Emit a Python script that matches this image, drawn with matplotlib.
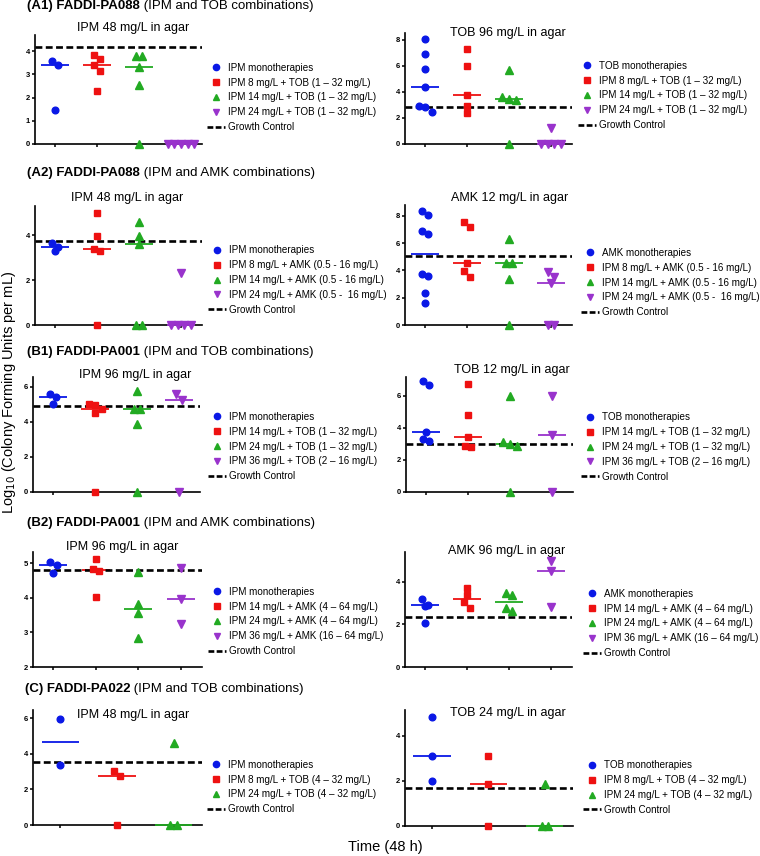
import numpy as np
import matplotlib
matplotlib.use('Agg')
import matplotlib.pyplot as plt
from matplotlib.lines import Line2D

plt.rcParams['font.family'] = ['Liberation Sans', 'DejaVu Sans']

W, H = 760, 856
fig = plt.figure(figsize=(W / 100, H / 100), dpi=100)

COLORS = ['#0a18e6', '#ee1111', '#22aa22', '#9933cc']
MARKERS = ['o', 's', '^', 'v']
MSIZE = [4.8, 4.4, 5.2, 5.2]

# ---------------- data ----------------
# (A1) FADDI-PA088, IPM and TOB
a1l_mono = [3.6, 3.4, 1.47]
a1l_ipm8 = [3.85, 3.65, 3.4, 3.15, 2.3]
a1l_ipm14 = [3.8, 3.78, 3.3, 2.55, 0]
a1l_ipm24 = [0, 0, 0, 0, 0]
a1l_gc = 4.2

a1r_mono = [8.07, 6.93, 5.78, 4.38, 2.9, 2.8, 2.45]
a1r_ipm8 = [7.24, 6.0, 3.75, 2.9, 2.35]
a1r_ipm14 = [5.65, 3.62, 3.44, 3.36, 0]
a1r_ipm24 = [1.25, 0, 0, 0, 0]
a1r_gc = 2.83

# (A2) FADDI-PA088, IPM and AMK
a2l_mono = [3.63, 3.49, 3.3]
a2l_ipm8 = [4.97, 3.97, 3.4, 3.3, 0]
a2l_ipm14 = [4.6, 3.97, 3.6, 0, 0]
a2l_ipm24 = [2.3, 0, 0, 0, 0]
a2l_gc = 3.73

a2r_mono = [8.38, 8.08, 6.9, 6.68, 3.77, 3.59, 2.37, 1.58]
a2r_ipm8 = [7.57, 7.2, 4.58, 3.96, 3.55]
a2r_ipm14 = [6.3, 4.58, 4.58, 3.35, 0]
a2r_ipm24 = [3.92, 3.55, 3.1, 0, 0]
a2r_gc = 5.04

# (B1) FADDI-PA001, IPM and TOB
b1l_mono = [5.62, 5.43, 5.01]
b1l_ipm14 = [5.05, 4.95, 4.76, 4.53, 0]
b1l_ipm24 = [5.75, 4.76, 4.76, 3.9, 0]
b1l_ipm36 = [5.58, 5.28, 0]
b1l_gc = 4.9

b1r_mono = [6.9, 6.69, 3.71, 3.31, 3.21]
b1r_ipm14 = [6.73, 4.83, 3.42, 2.88, 2.83]
b1r_ipm24 = [5.96, 3.1, 3.0, 2.88, 0]
b1r_ipm36 = [5.96, 3.56, 0]
b1r_gc = 3.0

# (B2) FADDI-PA001, IPM and AMK
b2l_mono = [5.05, 4.95, 4.71]
b2l_ipm14 = [5.12, 4.84, 4.78, 4.02]
b2l_ipm24 = [4.75, 3.83, 3.55, 2.85]
b2l_ipm36 = [4.88, 3.96, 3.24]
b2l_gc = 4.8

b2r_mono = [3.18, 2.93, 2.85, 2.06]
b2r_ipm14 = [3.69, 3.36, 3.05, 2.78]
b2r_ipm24 = [3.47, 3.36, 2.78, 2.63]
b2r_ipm36 = [4.96, 4.53, 2.8]
b2r_gc = 2.37

# (C) FADDI-PA022, IPM and TOB
cl_mono = [5.94, 3.36]
cl_ipm8 = [3.05, 2.74, 0]
cl_ipm24 = [4.62, 0, 0]
cl_gc = 3.55

cr_mono = [4.81, 3.1, 2.0]
cr_ipm8 = [3.11, 1.88, 0]
cr_ipm24 = [1.88, 0, 0]
cr_gc = 1.67

lab_tob_a = ["IPM 8 mg/L + TOB (1 \u2013 32 mg/L)", "IPM 14 mg/L + TOB (1 \u2013 32 mg/L)",
             "IPM 24 mg/L + TOB (1 \u2013 32 mg/L)"]
lab_amk_a = ["IPM 8 mg/L + AMK (0.5 - 16 mg/L)", "IPM 14 mg/L + AMK (0.5 - 16 mg/L)",
             "IPM 24 mg/L + AMK (0.5 -  16 mg/L)"]
lab_tob_b = ["IPM 14 mg/L + TOB (1 \u2013 32 mg/L)", "IPM 24 mg/L + TOB (1 \u2013 32 mg/L)",
             "IPM 36 mg/L + TOB (2 \u2013 16 mg/L)"]
lab_amk_b = ["IPM 14 mg/L + AMK (4 \u2013 64 mg/L)", "IPM 24 mg/L + AMK (4 \u2013 64 mg/L)",
             "IPM 36 mg/L + AMK (16 \u2013 64 mg/L)"]
lab_tob_c = ["IPM 8 mg/L + TOB (4 \u2013 32 mg/L)", "IPM 24 mg/L + TOB (4 \u2013 32 mg/L)"]


def swarm(vals, ppy, d):
    vals = np.asarray(vals, dtype=float)
    order = np.argsort(-vals, kind='stable')
    offs = np.zeros(len(vals))
    rows = []
    for idx in order:
        if rows and abs(vals[rows[-1][0]] - vals[idx]) * ppy < d * 0.9:
            rows[-1].append(idx)
        else:
            rows.append([idx])
    for row in rows:
        k = len(row)
        for j, idx in enumerate(row):
            offs[idx] = (j - (k - 1) / 2) * d
    return offs


def add_panel(box, ylim, yticks, groups, gc, title, title_xy, labels, legend_xy):
    x0, y0, x1, y1 = box
    ax = fig.add_axes([x0 / W, 1 - y1 / H, (x1 - x0) / W, (y1 - y0) / H])
    n = len(groups)
    xlo, xhi = -0.48, n - 0.5
    ax.set_xlim(xlo, xhi)
    ax.set_ylim(*ylim)
    ppx = (x1 - x0) / (xhi - xlo)
    ppy = (y1 - y0) / (ylim[1] - ylim[0])
    d = 6.6
    for i, vals in enumerate(groups):
        offs = swarm(vals, ppy, d)
        xs = i + offs / ppx
        ax.plot(xs, vals, ls='none', marker=MARKERS[i], ms=MSIZE[i], color=COLORS[i],
                mec=COLORS[i], clip_on=False, zorder=5)
        med = np.median(vals)
        ax.plot([i - 0.33, i + 0.33], [med, med], color=COLORS[i], lw=1.3,
                solid_capstyle='butt', clip_on=False, zorder=4)
    ax.axhline(gc, color='black', lw=1.9, ls=(0, (2.6, 1.3)), zorder=4.5)
    for s in ['top', 'right']:
        ax.spines[s].set_visible(False)
    for s in ['left', 'bottom']:
        ax.spines[s].set_linewidth(1.2)
    ax.set_xticks(range(n))
    ax.set_xticklabels([])
    ax.set_yticks(yticks)
    ax.set_yticklabels([str(t) for t in yticks], fontsize=5.5, fontweight='bold')
    ax.tick_params(axis='both', direction='out', length=2.5, width=1.1, pad=1.2)
    fig.text(title_xy[0] / W, 1 - title_xy[1] / H, title, fontsize=9,
             ha='center', va='center')
    handles = [Line2D([], [], ls='none', marker=MARKERS[i], ms=MSIZE[i] - 0.3,
                      color=COLORS[i]) for i in range(n)]
    handles.append(Line2D([], [], color='black', lw=1.9, ls=(0, (2.2, 0.9))))
    ax.legend(handles, labels + ["Growth Control"], loc='center left',
              bbox_to_anchor=(legend_xy[0] / W, 1 - legend_xy[1] / H),
              bbox_transform=fig.transFigure, frameon=False, fontsize=7.1,
              handlelength=1.8, handletextpad=0.3, labelspacing=0.5,
              borderpad=0, borderaxespad=0)
    return ax


add_panel((35, 35, 202, 144), (0, 4.7), [0, 1, 2, 3, 4],
          [a1l_mono, a1l_ipm8, a1l_ipm14, a1l_ipm24], a1l_gc,
          "IPM 48 mg/L in agar", (133, 28), ["IPM monotherapies"] + lab_tob_a, (207, 97.5))
add_panel((405, 33, 572, 144), (0, 8.5), [0, 2, 4, 6, 8],
          [a1r_mono, a1r_ipm8, a1r_ipm14, a1r_ipm24], a1r_gc,
          "TOB 96 mg/L in agar", (508, 33), ["TOB monotherapies"] + lab_tob_a, (578, 95.5))
add_panel((35, 206, 202, 325), (0, 5.3), [0, 2, 4],
          [a2l_mono, a2l_ipm8, a2l_ipm14, a2l_ipm24], a2l_gc,
          "IPM 48 mg/L in agar", (127, 198), ["IPM monotherapies"] + lab_amk_a, (208, 280))
add_panel((405, 205, 572, 325), (0, 8.8), [0, 2, 4, 6, 8],
          [a2r_mono, a2r_ipm8, a2r_ipm14, a2r_ipm24], a2r_gc,
          "AMK 12 mg/L in agar", (510, 198), ["AMK monotherapies"] + lab_amk_a, (581, 282.5))
add_panel((33, 377, 200, 492), (0, 6.57), [0, 2, 4, 6],
          [b1l_mono, b1l_ipm14, b1l_ipm24, b1l_ipm36], b1l_gc,
          "IPM 96 mg/L in agar", (135, 375), ["IPM monotherapies"] + lab_tob_b, (208, 446.5))
add_panel((406, 377, 573, 492), (0, 7.17), [0, 2, 4, 6],
          [b1r_mono, b1r_ipm14, b1r_ipm24, b1r_ipm36], b1r_gc,
          "TOB 12 mg/L in agar", (512, 370), ["TOB monotherapies"] + lab_tob_b, (581, 447))
add_panel((33, 552, 202, 667), (2, 5.33), [2, 3, 4, 5],
          [b2l_mono, b2l_ipm14, b2l_ipm24, b2l_ipm36], b2l_gc,
          "IPM 96 mg/L in agar", (122, 547), ["IPM monotherapies"] + lab_amk_b, (208, 621.5))
add_panel((405, 552, 572, 667), (0, 5.4), [0, 2, 4],
          [b2r_mono, b2r_ipm14, b2r_ipm24, b2r_ipm36], b2r_gc,
          "AMK 96 mg/L in agar", (507, 551), ["AMK monotherapies"] + lab_amk_b, (583, 623.5))
add_panel((33, 710, 202, 825), (0, 6.47), [0, 2, 4, 6],
          [cl_mono, cl_ipm8, cl_ipm24], cl_gc,
          "IPM 48 mg/L in agar", (133, 715), ["IPM monotherapies"] + lab_tob_c, (207, 787))
add_panel((405, 710, 573, 826), (0, 5.14), [0, 2, 4],
          [cr_mono, cr_ipm8, cr_ipm24], cr_gc,
          "TOB 24 mg/L in agar", (508, 713), ["TOB monotherapies"] + lab_tob_c, (583, 787.5))

# group headings
headings = [("(A1) FADDI-PA088", " (IPM and TOB combinations)", 27, 6),
            ("(A2) FADDI-PA088", " (IPM and AMK combinations)", 27, 173),
            ("(B1) FADDI-PA001", " (IPM and TOB combinations)", 27, 352),
            ("(B2) FADDI-PA001", " (IPM and AMK combinations)", 27, 523),
            ("(C) FADDI-PA022", " (IPM and TOB combinations)", 25, 689)]
renderer = fig.canvas.get_renderer()
for bold, normal, hx, hy in headings:
    t = fig.text(hx / W, 1 - hy / H, bold, fontsize=9.5, fontweight='bold',
                 ha='left', va='center')
    bb = t.get_window_extent(renderer=renderer)
    fig.text(bb.x1 / W, 1 - hy / H, normal, fontsize=9.5, ha='left', va='center')

fig.text(9 / W, 1 - 392 / H, "Log$_{10}$ (Colony Forming Units per mL)", rotation=90,
         fontsize=10.5, ha='center', va='center')
fig.text(385 / W, 1 - 847 / H, "Time (48 h)", fontsize=10.5, ha='center', va='center')

fig.savefig('out.png', dpi=100)
